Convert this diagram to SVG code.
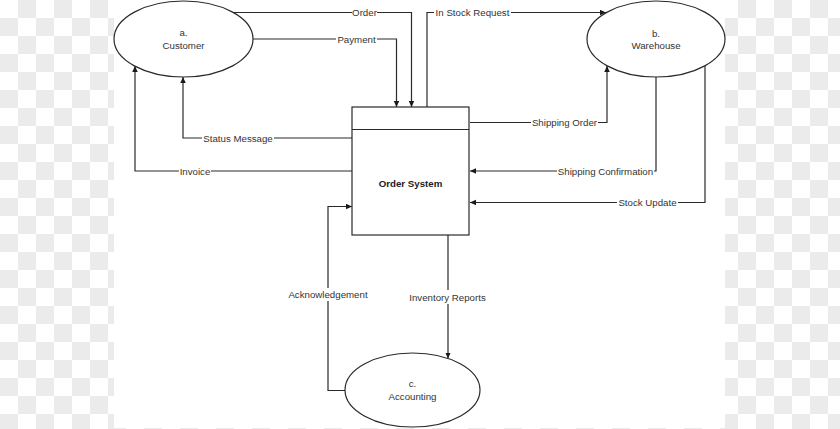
<svg xmlns="http://www.w3.org/2000/svg" width="840" height="429" viewBox="0 0 840 429">
<style>
.ln{fill:none;stroke:#2a2a2a;stroke-width:1.2}
.nd{fill:#fff;stroke:#2a2a2a;stroke-width:1.2}
.t{font-family:"Liberation Sans",Arial,sans-serif;font-size:9.7px;fill:#333;text-anchor:middle}
.b{font-weight:bold;fill:#222}
.bg{fill:#fff}
</style>
<defs>
<pattern id="chk" width="36" height="36" patternUnits="userSpaceOnUse">
<rect width="36" height="36" fill="#fff"/>
<rect x="18" y="0" width="18" height="18" fill="#ebebeb"/>
<rect x="0" y="18" width="18" height="18" fill="#ebebeb"/>
</pattern>
<marker id="ah" markerUnits="userSpaceOnUse" markerWidth="7" markerHeight="6" refX="6" refY="2.75" orient="auto">
<path d="M0,0 L6,2.75 L0,5.5 z" fill="#1a1a1a"/>
</marker>
</defs>
<rect width="840" height="429" fill="url(#chk)"/>
<rect x="114" y="0" width="611" height="428" fill="#fff"/>

<g id="connectors">
<path class="ln" d="M233,12.5 H411.5 V107" marker-end="url(#ah)"/>
<path class="ln" d="M253,39 H396.5 V107" marker-end="url(#ah)"/>
<path class="ln" d="M427,107 V12.5 H606" marker-end="url(#ah)"/>
<path class="ln" d="M470,122.5 H607 V66" marker-end="url(#ah)"/>
<path class="ln" d="M656,77 V171 H470" marker-end="url(#ah)"/>
<path class="ln" d="M705,66 V202.5 H470" marker-end="url(#ah)"/>
<path class="ln" d="M352,138 H183 V77" marker-end="url(#ah)"/>
<path class="ln" d="M352,171 H135 V66" marker-end="url(#ah)"/>
<path class="ln" d="M345,390.5 H328 V206.5 H352" marker-end="url(#ah)"/>
<path class="ln" d="M448,235 V358.5" marker-end="url(#ah)"/>
<g id="labels">
<rect class="bg" x="352" y="7" width="25" height="11"/>
<text class="t" x="364.5" y="16">Order</text>
<rect class="bg" x="336" y="33.5" width="41" height="11"/>
<text class="t" x="356.5" y="42.5">Payment</text>
<rect class="bg" x="434" y="7" width="77" height="11"/>
<text class="t" x="472.5" y="16">In Stock Request</text>
<rect class="bg" x="531" y="117" width="67" height="11"/>
<text class="t" x="564.5" y="126">Shipping Order</text>
<rect class="bg" x="557" y="165.5" width="97" height="11"/>
<text class="t" x="605.5" y="174.5">Shipping Confirmation</text>
<rect class="bg" x="617" y="197" width="61" height="11"/>
<text class="t" x="647.5" y="206">Stock Update</text>
<rect class="bg" x="202" y="132.5" width="72" height="11"/>
<text class="t" x="238" y="141.5">Status Message</text>
<rect class="bg" x="179" y="165.5" width="32" height="11"/>
<text class="t" x="195" y="174.5">Invoice</text>
<rect class="bg" x="287" y="288" width="82" height="13"/>
<text class="t" x="328" y="298">Acknowledgement</text>
<rect class="bg" x="408" y="290" width="80" height="14"/>
<text class="t" x="447.5" y="300.5">Inventory Reports</text>
</g>
</g>

<g id="customer">
<ellipse class="nd" cx="183.5" cy="39" rx="69.5" ry="38"/>
<text class="t" x="183.5" y="36">a.</text>
<text class="t" x="183.5" y="48.5">Customer</text>
</g>
<g id="warehouse">
<ellipse class="nd" cx="656" cy="39" rx="69" ry="38"/>
<text class="t" x="656" y="36.5">b.</text>
<text class="t" x="656" y="49">Warehouse</text>
</g>
<g id="order-system">
<rect class="nd" x="352" y="107" width="117" height="128"/>
<line class="ln" x1="352" y1="129.5" x2="469" y2="129.5"/>
<text class="t b" x="410.5" y="186.5">Order System</text>
</g>
<g id="accounting">
<ellipse class="nd" cx="412.5" cy="390" rx="67.5" ry="37"/>
<text class="t" x="412.5" y="387">c.</text>
<text class="t" x="412.5" y="399.5">Accounting</text>
</g>
</svg>
